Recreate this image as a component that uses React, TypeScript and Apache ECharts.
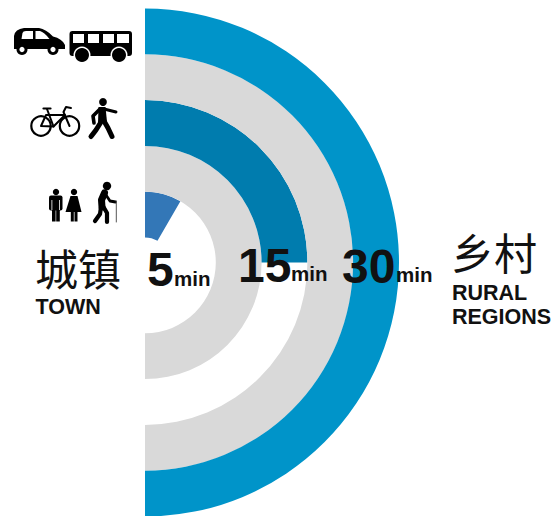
import React, { useEffect, useRef } from "react";
import * as echarts from "echarts";

const ringNames = ["5min", "gap-a", "15min", "gap-b", "30min"];
const ringSweeps = [30, 180, 90, 180, 180];
const ringColors = ["#3377b7", "#d9d9d9", "#007cae", "#d9d9d9", "#0094c9"];

const minutes = [
  { num: "5", x: 147, y: 293, size: 48, minX: 174, minY: 289 },
  { num: "15", x: 238, y: 289, size: 48, minX: 291, minY: 284 },
  { num: "30", x: 342, y: 290, size: 48, minX: 396, minY: 285 },
];

const INK = "#000";
const FONT = '"Liberation Sans", Arial, sans-serif';
const CJK = '"Noto Sans CJK SC", sans-serif';

echarts.graphic.registerShape(
  "carBody",
  echarts.graphic.extendPath(
    "M14,46 L14,36 Q15,29 24,28 L39,28 Q46,29 53,36.5 Q62,38.5 65,45 L65,49 L14,49 Z",
    {}
  )
);
echarts.graphic.registerShape(
  "carWinA",
  echarts.graphic.extendPath("M21.5,39 L22.5,33 Q23,31 26,31 L33,31 L33,39 Z", {})
);
echarts.graphic.registerShape(
  "carWinB",
  echarts.graphic.extendPath("M35.5,31 L40,31 Q44,32 49.5,39 L35.5,39 Z", {})
);

const circle = (cx: number, cy: number, r: number, fill: string = INK) => ({
  type: "circle",
  shape: { cx, cy, r },
  style: { fill },
  z: 100,
  silent: true,
});
const ringC = (cx: number, cy: number, r: number, w: number) => ({
  type: "circle",
  shape: { cx, cy, r },
  style: { fill: "none", stroke: INK, lineWidth: w },
  z: 100,
  silent: true,
});
const rect = (x: number, y: number, width: number, height: number, fill: string = INK, r = 0) => ({
  type: "rect",
  shape: { x, y, width, height, r },
  style: { fill },
  z: 100,
  silent: true,
});
const line = (points: number[][], lineWidth: number, stroke: string = INK) => ({
  type: "polyline",
  shape: { points },
  style: { fill: "none", stroke, lineWidth, lineCap: "round", lineJoin: "round" },
  z: 100,
  silent: true,
});
const poly = (points: number[][], fill: string = INK) => ({
  type: "polygon",
  shape: { points },
  style: { fill },
  z: 100,
  silent: true,
});
const label = (
  text: string,
  x: number,
  y: number,
  size: number,
  weight: string | number = "bold",
  family: string = FONT
) => ({
  type: "text",
  x,
  y,
  z: 110,
  silent: true,
  style: {
    text,
    fill: "#111",
    font: `${weight} ${size}px ${family}`,
    textAlign: "left",
    textVerticalAlign: "bottom",
  },
});

const icons = [
  // car
  { type: "carBody", style: { fill: INK }, z: 100, silent: true },
  { type: "carWinA", style: { fill: "#fff" }, z: 101, silent: true },
  { type: "carWinB", style: { fill: "#fff" }, z: 101, silent: true },
  { ...circle(22, 49.5, 5.5), z: 102 },
  { ...circle(22, 49.5, 2.6, "#fff"), z: 103 },
  { ...circle(53, 49.5, 5.5), z: 102 },
  { ...circle(53, 49.5, 2.6, "#fff"), z: 103 },
  // bus
  rect(69.5, 31, 62.5, 25, INK, 3),
  { ...rect(73, 34, 11, 9, "#fff"), z: 101 },
  { ...rect(88, 34, 11, 9, "#fff"), z: 101 },
  { ...rect(103, 34, 11, 9, "#fff"), z: 101 },
  { ...rect(117, 34, 12, 9, "#fff"), z: 101 },
  { ...circle(82, 55, 8.5, "#fff"), z: 101 },
  { ...circle(119, 55, 8.5, "#fff"), z: 101 },
  { ...circle(82, 55, 7), z: 102 },
  { ...circle(119, 55, 7), z: 102 },
  // bicycle
  ringC(41, 126, 9.7, 2.2),
  ringC(69.5, 126, 9.7, 2.2),
  line([[41, 126], [53.5, 126.5], [65, 115], [46, 115], [41, 126]], 2),
  line([[47, 109], [53.5, 126.5]], 2),
  line([[43.5, 108.5], [50.5, 108.5]], 2.2),
  line([[69.5, 126], [63.5, 112], [66, 107], [71, 108]], 2),
  // walker
  circle(103, 102, 3.9),
  poly([[98.5, 107], [105.5, 107], [107, 122], [98, 124]], INK),
  line([[100, 109], [93, 116], [94, 123]], 3.6),
  line([[104, 109], [116, 112]], 3),
  line([[101, 122], [96, 130], [91, 136.5]], 5),
  line([[104, 121], [108, 128], [112, 136.5]], 5),
  // man
  circle(56, 192, 3.2),
  rect(49, 195.5, 13.5, 15, INK, 2),
  rect(52, 205, 3.6, 16.5),
  rect(56.2, 205, 3.6, 16.5),
  { ...rect(51.5, 200, 0.8, 10, "#fff"), z: 101 },
  { ...rect(59, 200, 0.8, 10, "#fff"), z: 101 },
  // woman
  circle(74, 192, 3.2),
  poly([[70.5, 196], [77.5, 196], [81.5, 212], [65.5, 212]]),
  rect(70.8, 211, 3, 10.5),
  rect(74.5, 211, 3, 10.5),
  // elder
  circle(107, 186, 4.2),
  line([[104.5, 193], [101.5, 200], [102, 207]], 7),
  line([[101, 207], [100, 214], [95, 221]], 4.2),
  line([[103.5, 207], [107, 213], [107, 222]], 4.2),
  line([[106, 195], [110, 201], [115.5, 202]], 2.8),
  line([[116.3, 201], [116.3, 222]], 1, "#555"),
];

const texts = [
  label("城镇", 35, 288, 43, 400, CJK),
  label("TOWN", 35.5, 318, 21.5),
  label("乡村", 451, 272, 43, 400, CJK),
  label("RURAL", 452, 304, 21.5),
  label("REGIONS", 452, 328, 21.5),
  ...minutes.flatMap((m) => [
    label(m.num, m.x, m.y, m.size),
    label("min", m.minX, m.minY, 20.5),
  ]),
];

export default function App() {
  const ref = useRef<HTMLDivElement>(null);
  useEffect(() => {
    if (!ref.current) return;
    const chart = echarts.init(ref.current, undefined, { renderer: "svg" });
    chart.setOption({
      animation: false,
      backgroundColor: "#fff",
      polar: { center: [145, 262.5], radius: [25, 254] },
      angleAxis: {
        type: "value",
        min: 0,
        max: 360,
        startAngle: 90,
        clockwise: true,
        axisLine: { show: false },
        axisTick: { show: false },
        axisLabel: { show: false },
        splitLine: { show: false },
      },
      radiusAxis: {
        type: "category",
        data: ringNames,
        axisLine: { show: false },
        axisTick: { show: false },
        axisLabel: { show: false },
        splitLine: { show: false },
      },
      series: [
        {
          type: "bar",
          coordinateSystem: "polar",
          barWidth: "100%",
          data: ringSweeps.map((value, i) => ({
            value,
            itemStyle: { color: ringColors[i] },
          })),
          silent: true,
        },
      ],
      graphic: { elements: [...icons, ...texts] },
    });
    return () => chart.dispose();
  }, []);
  return (
    <div
      ref={ref}
      style={{ position: "fixed", left: 0, top: 0, width: 551, height: 516, overflow: "hidden" }}
    />
  );
}
